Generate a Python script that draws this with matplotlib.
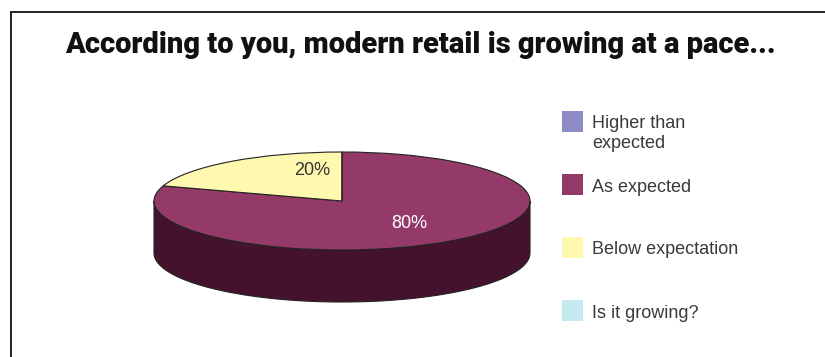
import numpy as np
import matplotlib.pyplot as plt
from matplotlib.transforms import Affine2D
from matplotlib.patches import Polygon, Rectangle

# survey answers, in legend order
categories = ["Higher than\nexpected", "As expected", "Below expectation", "Is it growing?"]
shares = [0, 80, 20, 0]
top_colors = ["#8E8CC6", "#943A69", "#FFF9B0", "#C4E9EF"]
side_colors = ["#4A4870", "#45122E", "#A8A070", "#7A9AA0"]
title = "According to you, modern retail is growing at a pace..."

W, H = 825, 357
fig = plt.figure(figsize=(W / 100, H / 100), dpi=100)
ax = fig.add_axes([0, 0, 1, 1])

# outer frame (runs off the right and bottom edges)
ax.add_patch(Rectangle((10.5, -20), W + 20, H - 11.5 + 20, fill=False,
                       edgecolor="#222222", lw=1.4))

ax.text(420, H - 45, title, ha="center", va="center", fontsize=21,
        fontfamily="Roboto", fontweight="heavy", color="#111111")

# pie geometry in pixels
cx, cy = 342, H - 201
rx, ry = 188, 49
depth = 52
squash = Affine2D().translate(-cx, -cy).scale(1, ry / rx).translate(cx, cy)

# side wall: front half of the rim, split by slice boundaries
fracs = np.array(shares, float) / sum(shares)
ends = 90 - 360 * np.cumsum(fracs)
starts = np.r_[90, ends[:-1]]
for a0, a1, col in zip(starts, ends, side_colors):
    lo, hi = min(a0, a1), max(a0, a1)
    # visible front rim is between 180 and 360 degrees
    for shift in (0, 360, -360):
        s, e = max(lo + shift, 180), min(hi + shift, 360)
        if e > s:
            t = np.radians(np.linspace(s, e, 120))
            xs = cx + rx * np.cos(t)
            ys = cy + ry * np.sin(t)
            pts = np.r_[np.c_[xs, ys], np.c_[xs[::-1], ys[::-1] - depth]]
            ax.add_patch(Polygon(pts, closed=True, facecolor=col,
                                 edgecolor="#222222", lw=0.8, zorder=2))

wedges, _ = ax.pie(shares, colors=top_colors, startangle=90, counterclock=False,
                   center=(cx, cy), radius=rx, frame=True,
                   wedgeprops=dict(edgecolor="#222222", linewidth=0.8))
for w in wedges:
    w.set_transform(squash + ax.transData)
    w.set_zorder(3)
ax.set_xlim(0, W)
ax.set_ylim(0, H)
ax.set_aspect("auto")
ax.axis("off")

# percentage labels
label_pos = {1: (0.36, -0.45), 2: (-0.16, 0.63)}
for i, (x, y) in label_pos.items():
    ax.text(cx + rx * x, cy + ry * y, f"{shares[i]}%", ha="center", va="center",
            fontsize=13, color="white" if i == 1 else "#333333",
            fontfamily="Liberation Sans", zorder=4)

# legend
for i, (lab, col) in enumerate(zip(categories, top_colors)):
    top = H - 111 - 63 * i
    ax.add_patch(Rectangle((562, top - 21), 21, 21, facecolor=col, edgecolor="none"))
    for j, line in enumerate(lab.split("\n")):
        ax.text(592, top - 17.5 - 19 * j, line, ha="left", va="baseline", fontsize=13,
                fontfamily="Liberation Sans", color="#3a3a3a")

fig.savefig("out.png", dpi=100)
